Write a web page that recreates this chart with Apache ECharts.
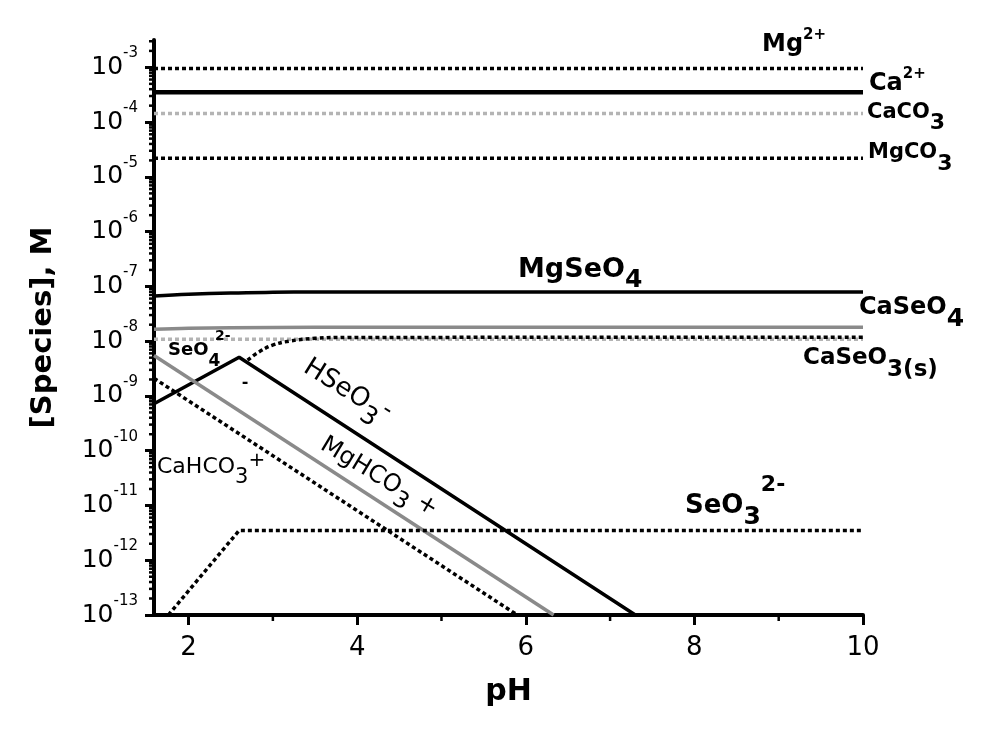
<!DOCTYPE html>
<html>
<head>
<meta charset="utf-8">
<script src="https://cdn.jsdelivr.net/npm/echarts@6/dist/echarts.min.js"></script>
<style>
  html, body { margin: 0; padding: 0; background: #fff; }
  #main { width: 1000px; height: 737px; }
</style>
</head>
<body>
<div id="main"></div>
<script>
// values: pH vs concentration (M)
const phFlat = [1.59, 10];
const mg2 = [9.5e-4, 9.5e-4];
const ca2 = [3.5e-4, 3.5e-4];
const caco3 = [1.44e-4, 1.44e-4];
const mgco3 = [2.2e-5, 2.2e-5];
const seo4 = [1.09e-8, 1.09e-8];

const phMgSeO4 = [1.59, 2, 2.5, 3, 3.5, 4, 10];
const mgseo4 = [6.7e-8, 7.2e-8, 7.6e-8, 7.8e-8, 7.9e-8, 7.9e-8, 7.9e-8];
const phCaSeO4 = [1.59, 2, 3, 4, 10];
const caseo4 = [1.65e-8, 1.72e-8, 1.78e-8, 1.8e-8, 1.8e-8];
const phCaSeO3 = [2.7, 2.83, 2.99, 3.19, 3.5, 3.9, 10];
const caseo3 = [4.5e-9, 6.3e-9, 8.4e-9, 1.0e-8, 1.13e-8, 1.17e-8, 1.18e-8];
const phHSeO3 = [1.59, 2.6, 7.3];
const hseo3 = [7.2e-10, 5.1e-9, 1e-13];
const phMgHCO3 = [1.59, 6.33];
const mghco3 = [5.5e-9, 1e-13];
const phCaHCO3 = [1.59, 5.9];
const cahco3 = [2.1e-9, 1e-13];
const phSeO3 = [1.76, 2.6, 10];
const seo3 = [1e-13, 3.5e-12, 3.5e-12];

// axis ticks
const xMajor = [2, 4, 6, 8, 10];
const xMinor = [3, 5, 7, 9];
const yMajor = [1e-13, 1e-12, 1e-11, 1e-10, 1e-9, 1e-8, 1e-7, 1e-6, 1e-5, 1e-4, 1e-3];
const X_MIN = 1.59, X_MAX = 10;
const Y_MIN = 1e-13, Y_MAX = Math.pow(10, -2.5);
const yMinor = [];
for (let e = -13; e < -2; e++) {
  for (let m = 2; m <= 9; m++) {
    const v = m * Math.pow(10, e);
    if (v < Y_MAX) yMinor.push(v);
  }
}

const FONT = 'DejaVu Sans';
const BLACK = '#000';
const GRAY = '#8a8a8a';
const LIGHT = '#b4b4b4';
const DOT = [4, 3];

function pairs(xs, ys) {
  return xs.map((x, i) => [x, ys[i]]);
}

function line(name, xs, ys, color, width, dashed, smooth) {
  return {
    name: name,
    type: 'line',
    data: pairs(xs, ys),
    showSymbol: false,
    smooth: smooth ? 0.4 : false,
    silent: true,
    lineStyle: { color: color, width: width, type: dashed ? DOT : 'solid', cap: 'butt' }
  };
}

function tickSeries(data, horizontal) {
  return {
    type: 'custom',
    silent: true,
    clip: false,
    data: data,
    renderItem: (params, api) => {
      const p = api.coord([api.value(0), api.value(1)]);
      const shape = horizontal
        ? { x1: p[0] - 5, y1: p[1], x2: p[0], y2: p[1] }
        : { x1: p[0], y1: p[1], x2: p[0], y2: p[1] + 6 };
      return { type: 'line', shape: shape, style: { stroke: BLACK, lineWidth: 2.5 } };
    }
  };
}

// chemistry labels
function label(x, y, text, size, bold, opts) {
  opts = opts || {};
  const w = bold ? 'bold' : 'normal';
  return {
    type: 'text',
    x: x,
    y: y,
    rotation: opts.rot ? -opts.rot * Math.PI / 180 : 0,
    z: 100,
    style: {
      text: text,
      fill: BLACK,
      fontFamily: FONT,
      fontSize: size,
      fontWeight: w,
      align: opts.align || 'left',
      verticalAlign: 'middle',
      rich: {
        m: { fontFamily: FONT, fontSize: size, fontWeight: w },
        s: { fontFamily: FONT, fontSize: opts.sub || size - 2, fontWeight: w, padding: [opts.down || 20, 0, 0, 0] },
        p: { fontFamily: FONT, fontSize: opts.sup || 15, fontWeight: w, padding: [0, 0, opts.up || 22, 0] }
      }
    }
  };
}

const chart = echarts.init(document.getElementById('main'));
chart.setOption({
  animation: false,
  backgroundColor: '#fff',
  grid: { left: 154, right: 137, top: 40, bottom: 122 },
  xAxis: {
    type: 'value',
    min: X_MIN,
    max: X_MAX,
    name: 'pH',
    nameLocation: 'middle',
    nameGap: 62,
    nameTextStyle: { fontFamily: FONT, fontSize: 30, fontWeight: 'bold', color: BLACK },
    splitLine: { show: false },
    axisLine: { lineStyle: { color: BLACK, width: 4 } },
    axisTick: { customValues: xMajor, length: 10, lineStyle: { color: BLACK, width: 3 } },
    axisLabel: { customValues: xMajor, margin: 20, fontFamily: FONT, fontSize: 26, color: BLACK }
  },
  yAxis: {
    type: 'log',
    logBase: 10,
    min: Y_MIN,
    max: Y_MAX,
    name: '[Species], M',
    nameLocation: 'middle',
    nameGap: 96,
    nameTextStyle: { fontFamily: FONT, fontSize: 29, fontWeight: 'bold', color: BLACK },
    splitLine: { show: false },
    axisLine: { show: true, lineStyle: { color: BLACK, width: 4 } },
    axisTick: { customValues: yMajor, length: 9, lineStyle: { color: BLACK, width: 3 } },
    axisLabel: {
      customValues: yMajor,
      margin: 16,
      color: BLACK,
      formatter: v => '{b|10}{s|' + Math.round(Math.log10(v)) + '}',
      rich: {
        b: { fontFamily: FONT, fontSize: 25, color: BLACK },
        s: { fontFamily: FONT, fontSize: 15, color: BLACK, padding: [0, 0, 28, 0] }
      }
    }
  },
  series: [
    line('Mg2+', phFlat, mg2, BLACK, 3.5, true),
    line('Ca2+', phFlat, ca2, BLACK, 4.5, false),
    line('CaCO3', phFlat, caco3, LIGHT, 3.5, true),
    line('MgCO3', phFlat, mgco3, BLACK, 3.5, true),
    line('MgSeO4', phMgSeO4, mgseo4, BLACK, 3.5, false, true),
    line('CaSeO4', phCaSeO4, caseo4, GRAY, 3.5, false, true),
    line('SeO4 2-', phFlat, seo4, LIGHT, 3.5, true),
    line('CaSeO3(s)', phCaSeO3, caseo3, BLACK, 3.5, true, true),
    line('HSeO3-', phHSeO3, hseo3, BLACK, 3.5, false),
    line('MgHCO3+', phMgHCO3, mghco3, GRAY, 3.5, false),
    line('CaHCO3+', phCaHCO3, cahco3, BLACK, 3.5, true),
    line('SeO3 2-', phSeO3, seo3, BLACK, 3.5, true),
    tickSeries(yMinor.map(v => [X_MIN, v]), true),
    tickSeries(xMinor.map(v => [v, Y_MIN]), false)
  ],
  graphic: [
    label(762, 45, '{m|Mg}{p|2+}', 24, true, { sup: 15, up: 20 }),
    label(869, 84, '{m|Ca}{p|2+}', 24, true, { sup: 15, up: 20 }),
    label(867, 113, '{m|CaCO}{s|3}', 21, true, { sub: 22, down: 20 }),
    label(868, 153, '{m|MgCO}{s|3}', 21, true, { sub: 22, down: 22 }),
    label(518, 270, '{m|MgSeO}{s|4}', 27, true, { sub: 25, down: 20 }),
    label(859, 308, '{m|CaSeO}{s|4}', 24, true, { sub: 25, down: 23 }),
    label(803, 358, '{m|CaSeO}{s|3(s)}', 23, true, { sub: 23, down: 25 }),
    label(168, 350, '{m|SeO}{s|4}', 18, true, { sub: 17, down: 24 }),
    label(215, 336, '2-', 14, true),
    label(245, 383, '-', 16, true, { align: 'center' }),
    label(347, 391, '{m|HSeO}{s|3}{p|-}', 26, false, { rot: 32, sub: 25, down: 22, sup: 24, up: 10, align: 'center' }),
    label(379, 477, '{m|MgHCO}{s|3}{m| +}', 24, false, { rot: 31, sub: 23, down: 20, align: 'center' }),
    label(157, 467, '{m|CaHCO}{s|3}{p|+}', 22, false, { sub: 21, down: 22, sup: 20, up: 12 }),
    label(685, 506, '{m|SeO}{s|3}{p|2-}', 26, true, { sub: 25, down: 22, sup: 22, up: 42 })
  ]
});
</script>
</body>
</html>
